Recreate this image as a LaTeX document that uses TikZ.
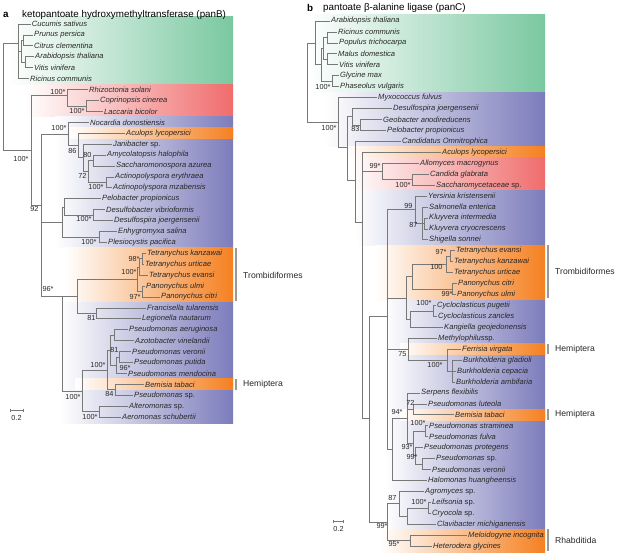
\documentclass[tikz,border=0pt]{standalone}
\usepackage{fontspec}
\setmainfont{Liberation Sans}
\definecolor{grn}{RGB}{122,200,160}
\definecolor{rd}{RGB}{240,108,108}
\definecolor{blu}{RGB}{124,124,188}
\definecolor{org}{RGB}{245,128,32}
\definecolor{lgrey}{RGB}{120,120,120}
\definecolor{txt}{RGB}{40,40,40}
\newcommand\tleaf[4]{\node[leaf] (#1) at (#2,#3) {#4};}
\newcommand\tkids[2]{\foreach \c in {#2}{\draw[br] (#1) |- (\c);}}
\newcommand\tbs[4]{\node[bs] (#1) at (#2,#3) {#4};}
\newcommand\spp{\upshape sp.}
\begin{document}
\begin{tikzpicture}[x=1pt,y=-1pt,
  leaf/.style={anchor=west,inner sep=1pt,font=\fontsize{7.6}{8}\selectfont\itshape,text=txt},
  br/.style={draw=lgrey,line width=0.7pt},
  bs/.style={anchor=east,inner sep=0.3pt,font=\fontsize{7.3}{8}\selectfont,text=txt},
  clade/.style={anchor=west,inner sep=0pt,font=\fontsize{8.6}{9}\selectfont,text=txt},
  cbar/.style={draw=black!40,line width=1.1pt},
  ttl/.style={anchor=west,inner sep=0pt,font=\fontsize{9.8}{11}\selectfont,text=black}]
\useasboundingbox (0,0) rectangle (617,552);
% ---------- backgrounds panel a
\shade[left color=white,right color=grn] (8,16) rectangle (233,84);
\shade[left color=white,right color=rd] (25,84) rectangle (233,116.8);
\shade[left color=white,right color=blu] (55,116.8) rectangle (233,247.8);
\shade[left color=white,right color=org] (70,127.8) rectangle (233,138.6);
\shade[left color=white,right color=org] (65,247.8) rectangle (233,302.4);
\shade[left color=white,right color=blu] (60,302.4) rectangle (233,423);
\shade[left color=white,right color=org] (75,378.9) rectangle (233,389.8);
% ---------- backgrounds panel b
\shade[left color=white,right color=grn] (308,14) rectangle (545,92);
\shade[left color=white,right color=blu] (325,92) rectangle (545,146.8);
\shade[left color=white,right color=org] (345,146.8) rectangle (545,157.7);
\shade[left color=white,right color=rd] (350,157.7) rectangle (545,190.6);
\shade[left color=white,right color=blu] (355,190.6) rectangle (545,245.2);
\shade[left color=white,right color=org] (375,245.2) rectangle (545,300);
\shade[left color=white,right color=blu] (385,300) rectangle (545,529.7);
\shade[left color=white,right color=org] (400,343.7) rectangle (545,354.7);
\shade[left color=white,right color=org] (400,409.3) rectangle (545,420.3);
\shade[left color=white,right color=org] (380,529.7) rectangle (545,552);
% ---------- titles
\node[ttl,font=\fontsize{9.8}{11}\selectfont\bfseries] (ta) at (3,15) {a};
\node[ttl] (tat) at (22,15) {ketopantoate hydroxymethyltransferase (panB)};
\node[ttl,font=\fontsize{9.8}{11}\selectfont\bfseries] (tb) at (307,7.5) {b};
\node[ttl] (tbt) at (323,7.5) {pantoate β-alanine ligase (panC)};
% ---------- leaves panel a
\tleaf{l1}{30.7}{24.0}{Cucumis sativus}
\tleaf{l2}{33}{34.9}{Prunus persica}
\tleaf{l3}{33}{45.8}{Citrus clementina}
\tleaf{l4}{34}{56.8}{Arabidopsis thaliana}
\tleaf{l5}{33}{67.7}{Vitis vinifera}
\tleaf{l6}{29}{78.6}{Ricinus communis}
\tleaf{l7}{88}{89.5}{Rhizoctonia solani}
\tleaf{l8}{99}{100.4}{Coprinopsis cinerea}
\tleaf{l9}{103}{111.4}{Laccaria bicolor}
\tleaf{l10}{89}{122.3}{Nocardia donostiensis}
\tleaf{l11}{125}{133.2}{Aculops lycopersici}
\tleaf{l12}{112}{144.1}{Janibacter \spp}
\tleaf{l13}{106}{155.0}{Amycolatopsis halophila}
\tleaf{l14}{115}{166.0}{Saccharomonospora azurea}
\tleaf{l15}{114}{176.9}{Actinopolyspora erythraea}
\tleaf{l16}{112}{187.8}{Actinopolyspora mzabensis}
\tleaf{l17}{101}{198.7}{Pelobacter propionicus}
\tleaf{l18}{105}{209.6}{Desulfobacter vibrioformis}
\tleaf{l19}{113}{220.6}{Desulfospira joergensenii}
\tleaf{l20}{117}{231.5}{Enhygromyxa salina}
\tleaf{l21}{107}{242.4}{Plesiocystis pacifica}
\tleaf{l22}{146}{253.3}{Tetranychus kanzawai}
\tleaf{l23}{144}{264.2}{Tetranychus urticae}
\tleaf{l24}{148}{275.2}{Tetranychus evansi}
\tleaf{l25}{145}{286.1}{Panonychus ulmi}
\tleaf{l26}{160}{297.0}{Panonychus citri}
\tleaf{l27}{146}{307.9}{Francisella tularensis}
\tleaf{l28}{141}{318.8}{Legionella nautarum}
\tleaf{l29}{128}{329.8}{Pseudomonas aeruginosa}
\tleaf{l30}{134}{340.7}{Azotobacter vinelandii}
\tleaf{l31}{131}{351.6}{Pseudomonas veronii}
\tleaf{l32}{133}{362.5}{Pseudomonas putida}
\tleaf{l33}{127}{373.4}{Pseudomonas mendocina}
\tleaf{l34}{144}{384.4}{Bemisia tabaci}
\tleaf{l35}{133}{395.3}{Pseudomonas \spp}
\tleaf{l36}{128}{406.2}{Alteromonas \spp}
\tleaf{l37}{121}{417.1}{Aeromonas schubertii}
% ---------- internal nodes panel a
\coordinate (aP2) at (23,40.35);
\coordinate (aP3) at (25,62.25);
\coordinate (aP1) at (21,51.3);
\coordinate (aP0) at (18,43);
\coordinate (aR) at (3,97);
\coordinate (aF2) at (86,105.9);
\coordinate (aF1) at (67,95);
\coordinate (aA) at (31,150);
\coordinate (aB) at (41,205);
\coordinate (aC) at (68,133.9);
\coordinate (aC2) at (78,145.5);
\coordinate (aC3) at (83,157.8);
\coordinate (aC5) at (88,171.4);
\coordinate (aC4) at (93,160.5);
\coordinate (aC6) at (106,182.35);
\coordinate (aH1) at (62,222);
\coordinate (aH2) at (64,206.9);
\coordinate (aDd) at (93,215.1);
\coordinate (aEn) at (99,237);
\coordinate (aTk) at (142,258.8);
\coordinate (aTe) at (139,267);
\coordinate (aPan) at (142,291.5);
\coordinate (aTr) at (137,279.3);
\coordinate (aFL) at (96,313.4);
\coordinate (aE1) at (77,296.3);
\coordinate (aAA) at (114,335.2);
\coordinate (aVP) at (119,357);
\coordinate (aMVP) at (116,365.2);
\coordinate (aPs1) at (110,350);
\coordinate (aBP) at (115,389.8);
\coordinate (aPs2) at (107,370);
\coordinate (aAlt) at (99,411.6);
\coordinate (aG) at (82,391);
\coordinate (aD) at (62,296.3);
% ---------- edges panel a
\tkids{aP2}{l2,l3}
\tkids{aP3}{l4,l5}
\tkids{aP1}{aP2,aP3}
\tkids{aP0}{l1,aP1,l6}
\tkids{aR}{aP0,aA}
\tkids{aF2}{l8,l9}
\tkids{aF1}{l7,aF2}
\tkids{aA}{aF1,aB}
\tkids{aB}{aC,aH1,aD}
\tkids{aC}{l10,aC2}
\tkids{aC2}{l11,aC3}
\tkids{aC3}{l12,aC5}
\tkids{aC5}{aC4,aC6}
\tkids{aC4}{l13,l14}
\tkids{aC6}{l15,l16}
\tkids{aH1}{aH2,aEn}
\tkids{aH2}{l17,aDd}
\tkids{aDd}{l18,l19}
\tkids{aEn}{l20,l21}
\tkids{aTk}{l22,l23}
\tkids{aTe}{aTk,l24}
\tkids{aPan}{l25,l26}
\tkids{aTr}{aTe,aPan}
\tkids{aFL}{l27,l28}
\tkids{aE1}{aTr,aFL}
\tkids{aAA}{l29,l30}
\tkids{aVP}{l31,l32}
\tkids{aMVP}{aVP,l33}
\tkids{aPs1}{aAA,aMVP}
\tkids{aBP}{l34,l35}
\tkids{aPs2}{aPs1,aBP}
\tkids{aAlt}{l36,l37}
\tkids{aG}{aPs2,aAlt}
\tkids{aD}{aE1,aG}
% ---------- support values panel a
\tbs{sa1}{66}{91.5}{100*}
\tbs{sa2}{85}{110.5}{100*}
\tbs{sa3}{29}{159}{100*}
\tbs{sa4}{39}{209}{92}
\tbs{sa5}{67}{128}{100*}
\tbs{sa6}{77}{151}{86}
\tbs{sa7}{92}{155}{80}
\tbs{sa8}{87}{176}{72}
\tbs{sa9}{104}{187}{100*}
\tbs{sa10}{92}{219}{100*}
\tbs{sa11}{97}{242}{100*}
\tbs{sa12}{140}{259}{98*}
\tbs{sa13}{137}{272}{100*}
\tbs{sa14}{141}{297}{97*}
\tbs{sa15}{54}{289}{96*}
\tbs{sa16}{96}{318}{81}
\tbs{sa17}{119}{350}{81}
\tbs{sa18}{131}{368}{96*}
\tbs{sa19}{106}{365}{100*}
\tbs{sa20}{114}{394}{84}
\tbs{sa21}{81}{397}{100*}
\tbs{sa22}{98}{417}{100*}
% ---------- clade labels panel a
\draw[cbar] (236,248) -- (236,301);
\node[clade] (ca1) at (243,275) {Trombidiformes};
\draw[cbar] (236,379) -- (236,390);
\node[clade] (ca2) at (243,384) {Hemiptera};
% scale a
\coordinate (sca1) at (10,410);
\coordinate (sca2) at (23,410);
\draw[br] (sca1) -- (sca2);
\draw[br] (sca1) ++(0,-1.5) -- ++(0,3);
\draw[br] (sca2) ++(0,-1.5) -- ++(0,3);
\node[bs,anchor=center] (sca) at (16.5,417.5) {0.2};
% ---------- leaves panel b
\tleaf{r1}{330}{21.0}{Arabidopsis thaliana}
\tleaf{r2}{337}{31.9}{Ricinus communis}
\tleaf{r3}{338}{42.9}{Populus trichocarpa}
\tleaf{r4}{337}{53.8}{Malus domestica}
\tleaf{r5}{338}{64.8}{Vitis vinifera}
\tleaf{r6}{339}{75.7}{Glycine max}
\tleaf{r7}{339}{86.6}{Phaseolus vulgaris}
\tleaf{r8}{377}{97.6}{Myxococcus fulvus}
\tleaf{r9}{392}{108.5}{Desulfospira joergensenii}
\tleaf{r10}{382}{119.5}{Geobacter anodireducens}
\tleaf{r11}{386}{130.4}{Pelobacter propionicus}
\tleaf{r12}{401}{141.3}{Candidatus Omnitrophica}
\tleaf{r13}{441}{152.3}{Aculops lycopersici}
\tleaf{r14}{419}{163.2}{Allomyces macrogynus}
\tleaf{r15}{429}{174.2}{Candida glabrata}
\tleaf{r16}{435}{185.1}{Saccharomycetaceae \spp}
\tleaf{r17}{427}{196.0}{Yersinia kristensenii}
\tleaf{r18}{428}{207.0}{Salmonella enterica}
\tleaf{r19}{428}{217.9}{Kluyvera intermedia}
\tleaf{r20}{428}{228.9}{Kluyvera cryocrescens}
\tleaf{r21}{428}{239.8}{Shigella sonnei}
\tleaf{r22}{455}{250.7}{Tetranychus evansi}
\tleaf{r23}{453}{261.7}{Tetranychus kanzawai}
\tleaf{r24}{453}{272.6}{Tetranychus urticae}
\tleaf{r25}{457}{283.6}{Panonychus citri}
\tleaf{r26}{456}{294.5}{Panonychus ulmi}
\tleaf{r27}{436}{305.4}{Cycloclasticus pugetii}
\tleaf{r28}{437}{316.4}{Cycloclasticus zancles}
\tleaf{r29}{443}{327.3}{Kangiella geojedonensis}
\tleaf{r30}{437}{338.3}{Methylophilus\spp}
\tleaf{r31}{461}{349.2}{Ferrisia virgata}
\tleaf{r32}{462}{360.1}{Burkholderia gladioli}
\tleaf{r33}{456}{371.1}{Burkholderia cepacia}
\tleaf{r34}{455}{382.0}{Burkholderia ambifaria}
\tleaf{r35}{420}{393.0}{Serpens flexibilis}
\tleaf{r36}{427}{403.9}{Pseudomonas luteola}
\tleaf{r37}{454}{414.8}{Bemisia tabaci}
\tleaf{r38}{428}{425.8}{Pseudomonas straminea}
\tleaf{r39}{428}{436.7}{Pseudomonas fulva}
\tleaf{r40}{423}{447.7}{Pseudomonas protegens}
\tleaf{r41}{435}{458.6}{Pseudomonas \spp}
\tleaf{r42}{431}{469.5}{Pseudomonas veronii}
\tleaf{r43}{427}{480.5}{Halomonas huangheensis}
\tleaf{r44}{424}{491.4}{Agromyces \spp}
\tleaf{r45}{431}{502.4}{Leifsonia \spp}
\tleaf{r46}{431}{513.3}{Cryocola \spp}
\tleaf{r47}{436}{524.2}{Clavibacter michiganensis}
\tleaf{r48}{467}{535.2}{Meloidogyne incognita}
\tleaf{r49}{432}{546.1}{Heterodera glycines}
% ---------- internal nodes panel b
\coordinate (bRp) at (327,37.4);
\coordinate (bMv) at (327,59.3);
\coordinate (bGp) at (332,81.2);
\coordinate (bP1a) at (323,48.3);
\coordinate (bP1) at (321,64.7);
\coordinate (bP0) at (315,42.9);
\coordinate (bRoot) at (307,82);
\coordinate (bN) at (338,122);
\coordinate (bGp2) at (360,125);
\coordinate (bQ) at (352,116.7);
\coordinate (bR) at (347,147);
\coordinate (bS) at (355,180);
\coordinate (bU) at (362,222);
\coordinate (bCS) at (412,179.6);
\coordinate (bAl) at (382,171.4);
\coordinate (bK) at (424,223.4);
\coordinate (bSk) at (422,223.4);
\coordinate (bY) at (415,209.7);
\coordinate (bTek) at (450,256.2);
\coordinate (bTt) at (446,264.4);
\coordinate (bPan) at (452,289);
\coordinate (bTrb) at (412,276.7);
\coordinate (bCy) at (433,310.9);
\coordinate (bCK) at (410,319);
\coordinate (bTC) at (406,298);
\coordinate (bBk) at (452,371.1);
\coordinate (bFB) at (447,360.1);
\coordinate (bMF) at (408,349.2);
\coordinate (bSL) at (413,409.4);
\coordinate (bSF) at (425,431.2);
\coordinate (bPsv) at (422,464);
\coordinate (bPP) at (415,455.8);
\coordinate (bPS1) at (413,443.5);
\coordinate (bPsA) at (407,418);
\coordinate (bH) at (392,449);
\coordinate (bM) at (387,316);
\coordinate (bLC) at (428,507.9);
\coordinate (bLCC) at (407,516);
\coordinate (bAg) at (399,503.7);
\coordinate (bMH) at (410,540.6);
\coordinate (bAR) at (387,522);
\coordinate (bZ) at (369,418);
% ---------- edges panel b
\tkids{bRp}{r2,r3}
\tkids{bMv}{r4,r5}
\tkids{bGp}{r6,r7}
\tkids{bP1a}{bRp,bMv}
\tkids{bP1}{bP1a,bGp}
\tkids{bP0}{r1,bP1}
\tkids{bRoot}{bP0,bN}
\tkids{bN}{r8,bR}
\tkids{bGp2}{r10,r11}
\tkids{bQ}{r9,bGp2}
\tkids{bR}{bQ,bS}
\tkids{bS}{r12,bU}
\tkids{bU}{r13,bAl,bZ}
\tkids{bCS}{r15,r16}
\tkids{bAl}{r14,bCS}
\tkids{bK}{r19,r20}
\tkids{bSk}{r18,bK,r21}
\tkids{bY}{r17,bSk}
\tkids{bTek}{r22,r23}
\tkids{bTt}{bTek,r24}
\tkids{bPan}{r25,r26}
\tkids{bTrb}{bTt,bPan}
\tkids{bCy}{r27,r28}
\tkids{bCK}{bCy,r29}
\tkids{bTC}{bTrb,bCK}
\tkids{bBk}{r32,r33,r34}
\tkids{bFB}{r31,bBk}
\tkids{bMF}{r30,bFB}
\tkids{bSL}{r36,r37}
\tkids{bSF}{r38,r39}
\tkids{bPsv}{r41,r42}
\tkids{bPP}{r40,bPsv}
\tkids{bPS1}{bSF,bPP}
\tkids{bPsA}{r35,bSL,bPS1}
\tkids{bH}{bPsA,r43}
\tkids{bM}{bY,bTC,bMF,bH}
\tkids{bLC}{r45,r46}
\tkids{bLCC}{bLC,r47}
\tkids{bAg}{r44,bLCC}
\tkids{bMH}{r48,r49}
\tkids{bAR}{bAg,bMH}
\tkids{bZ}{bM,bAR}
% ---------- support values panel b
\tbs{sb1}{331}{87}{100*}
\tbs{sb2}{337}{128}{100*}
\tbs{sb3}{360}{129}{83}
\tbs{sb4}{381}{166}{99*}
\tbs{sb5}{411}{185}{100*}
\tbs{sb6}{413}{206}{99}
\tbs{sb7}{418}{225}{87}
\tbs{sb8}{447}{252}{97*}
\tbs{sb9}{443}{267}{100}
\tbs{sb10}{453}{294}{99*}
\tbs{sb11}{432}{303}{100*}
\tbs{sb12}{407}{354}{75}
\tbs{sb13}{443}{365}{100*}
\tbs{sb14}{415}{403}{72}
\tbs{sb15}{403}{412}{94*}
\tbs{sb16}{426}{423}{100*}
\tbs{sb17}{413}{447}{93*}
\tbs{sb18}{418}{457}{99*}
\tbs{sb19}{397}{498}{87}
\tbs{sb20}{427}{502}{100*}
\tbs{sb21}{388}{526}{99*}
\tbs{sb22}{400}{544}{95*}
% ---------- clade labels panel b
\draw[cbar] (548,245) -- (548,298);
\node[clade] (cb1) at (555,271) {Trombidiformes};
\draw[cbar] (548,344) -- (548,354);
\node[clade] (cb2) at (555,349) {Hemiptera};
\draw[cbar] (548,409) -- (548,420);
\node[clade] (cb3) at (555,414) {Hemiptera};
\draw[cbar] (548,529) -- (548,551);
\node[clade] (cb4) at (555,540) {Rhabditida};
% scale b
\coordinate (scb1) at (333,521);
\coordinate (scb2) at (343,521);
\draw[br] (scb1) -- (scb2);
\draw[br] (scb1) ++(0,-1.5) -- ++(0,3);
\draw[br] (scb2) ++(0,-1.5) -- ++(0,3);
\node[bs,anchor=center] (scb) at (338.5,528.5) {0.2};
\end{tikzpicture}
\end{document}
